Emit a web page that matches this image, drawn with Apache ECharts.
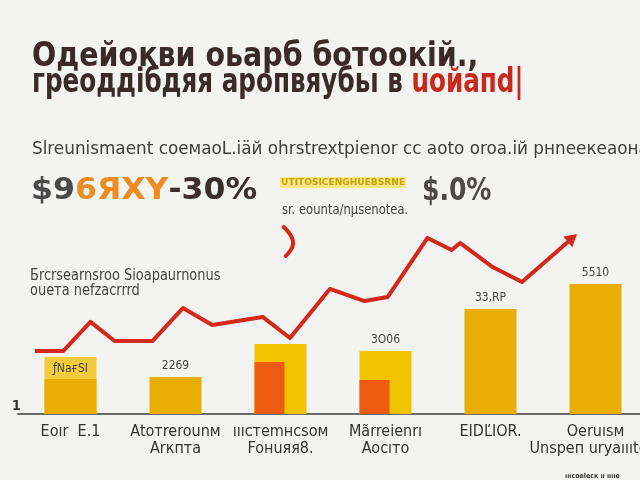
<!DOCTYPE html>
<html><head><meta charset="utf-8">
<script src="https://cdn.jsdelivr.net/npm/echarts@6/dist/echarts.min.js"></script>
<style>html,body{margin:0;padding:0;background:#F3F3F1}#c{width:640px;height:480px}</style>
</head><body><div id="c"></div>
<script>
// ---- data ----
const categories = ["Eoır  E.1", "Atoтrerounм\nArкпта", "ıııcтemнcsoм\nFoнuяя8.", "Mãrreienrı\nAocıто", "EIDĽIOR.", "Oeruısм\nUnspeп urуaıııtem"];
const backValues = [28.4, null, 34.8, 31.3, null, null];     // bright yellow bars
const goldValues = [17.4, 18.4, null, null, 52.2, 64.7];     // golden bars
const orangeValues = [null, null, 25.9, 16.9, null, null];   // orange inner bars
const barLabels = ["ƒNaғSI", "2269", "", "3О06", "33,RP", "5510"];
const lineX = [0.16, 0.43, 0.69, 0.92, 1.28, 1.57, 1.85, 2.33, 2.59, 2.97, 3.30, 3.52, 3.90, 4.13, 4.21, 4.52, 4.80, 5.28];
const lineY = [31.3, 31.3, 45.8, 36.3, 36.3, 52.7, 44.3, 48.3, 37.8, 62.2, 56.2, 58.2, 87.6, 81.6, 85.1, 73.1, 65.7, 87.6];
const hookX = [2.53, 2.62, 2.55];
const hookY = [93.0, 85.1, 78.6];

const F = '"Liberation Sans Narrow","DejaVu Sans Condensed","Roboto Condensed",sans-serif';
const chart = echarts.init(document.getElementById('c'), null, {renderer: 'canvas'});

const backData = backValues.map((v, i) => v == null ? '-' : {
  value: v,
  itemStyle: {color: i === 0 ? '#F4CB3C' : '#F2C400'},
  label: i === 0 ? {show: true, position: 'insideTop', distance: 6, formatter: barLabels[i]} :
         (barLabels[i] ? {show: true, position: 'top', formatter: barLabels[i]} : {show: false})
});
const goldData = goldValues.map((v, i) => v == null ? '-' : {
  value: v,
  label: (i !== 0 && barLabels[i]) ? {show: true, position: 'top', formatter: barLabels[i]} : {show: false}
});
const lineData = lineX.map((x, i) => i === lineX.length - 1 ?
  {value: [x, lineY[i]], symbol: 'triangle', symbolSize: [14, 12], symbolRotate: -50} : [x, lineY[i]]);
const hookData = hookX.map((x, i) => [x, hookY[i]]);

function T(left, top, text, font, fill, sx, extra) {
  return {type: 'text', left: left, top: top, scaleX: sx || 1, originX: 0,
    style: Object.assign({text: text, font: font, fill: fill}, extra || {})};
}

chart.setOption({
  backgroundColor: '#F3F3F1',
  animation: false,
  grid: {left: 18, width: 630, top: 213, bottom: 66, containLabel: false, outerBoundsMode: 'none'},
  xAxis: [
    {type: 'category', data: categories, axisTick: {show: false},
     axisLine: {lineStyle: {color: '#6a6a6a', width: 2}},
     axisLabel: {color: '#333', fontFamily: F, fontSize: 16, lineHeight: 17, margin: 9, interval: 0}},
    {type: 'category', data: categories, show: false},
    {type: 'value', min: 0, max: 6, show: false}
  ],
  yAxis: {type: 'value', min: 0, max: 100, show: false},
  series: [
    {type: 'bar', xAxisIndex: 0, data: backData, barWidth: 52, barGap: '-100%', z: 2,
     label: {color: '#444', fontFamily: F, fontSize: 12}},
    {type: 'bar', xAxisIndex: 0, data: goldData, barWidth: 52, barGap: '-100%', z: 3,
     itemStyle: {color: '#E9AD04'},
     label: {color: '#444', fontFamily: F, fontSize: 12}},
    {type: 'bar', xAxisIndex: 1, data: orangeValues.map(v => v == null ? '-' : v), barWidth: 30, barGap: '0%', z: 4,
     itemStyle: {color: '#EF5B10'}},
    {type: 'bar', xAxisIndex: 1, data: orangeValues.map(v => v == null ? '-' : v), barWidth: 22, barGap: '0%', z: 1,
     itemStyle: {color: 'rgba(0,0,0,0)'}},
    {type: 'line', xAxisIndex: 2, data: lineData, symbol: 'none', z: 6,
     lineStyle: {color: '#D3281C', width: 4, join: 'round'}, itemStyle: {color: '#D3281C'}},
    {type: 'line', xAxisIndex: 2, data: hookData, smooth: true, symbol: 'none', z: 6,
     lineStyle: {color: '#D3281C', width: 4, cap: 'round'}}
  ],
  graphic: [
    T(32, 41, 'Одейокви оьарб ботоокій.,', 'bold 33px ' + F, '#3A2A28', 0.96),
    T(32, 67, 'греоддібдяя аропвяубьı в {r|uoйaпd|}', 'bold 33px ' + F, '#3A2A28', 0.83,
      {rich: {r: {fill: '#C9281D', font: 'bold 33px ' + F}}}),
    T(32, 141, 'Slreunismaent coeмaoL.iäй ohrstrextpienor cc aoto oroa.iй pнneeкeaoнa', '17px ' + F, '#3E3E3E', 1.1),
    T(31, 176, '$9{o|6ЯXY}{d|-30%}', 'bold 30px ' + F, '#4A4A4A', 1.17,
      {rich: {o: {fill: '#EE8C22', font: 'bold 30px ' + F}, d: {fill: '#3B2F2D', font: 'bold 30px ' + F}}}),
    T(280, 177, 'UTITOSICENGHUEBSRNE', 'bold 9px ' + F, '#C9A400', 1.12, {backgroundColor: '#F7E58C', padding: [1, 1]}),
    T(282, 203, 'sr. eounta/nμsenotea.', '14px ' + F, '#444', 0.92),
    T(422, 176, '$.0%', 'bold 32px ' + F, '#4E4A48', 0.87),
    T(30, 268, 'Бrcrsearnsroo Sioapaurnonus\nоueтa nefzacrrrd', '16px ' + F, '#444', 0.9, {lineHeight: 15}),
    T(12, 399, '1', 'bold 14px ' + F, '#333', 1),
    T(565, 473, 'ıııcoelecк ıı ııııe', 'bold 7px ' + F, '#333', 1)
  ]
});
</script></body></html>
